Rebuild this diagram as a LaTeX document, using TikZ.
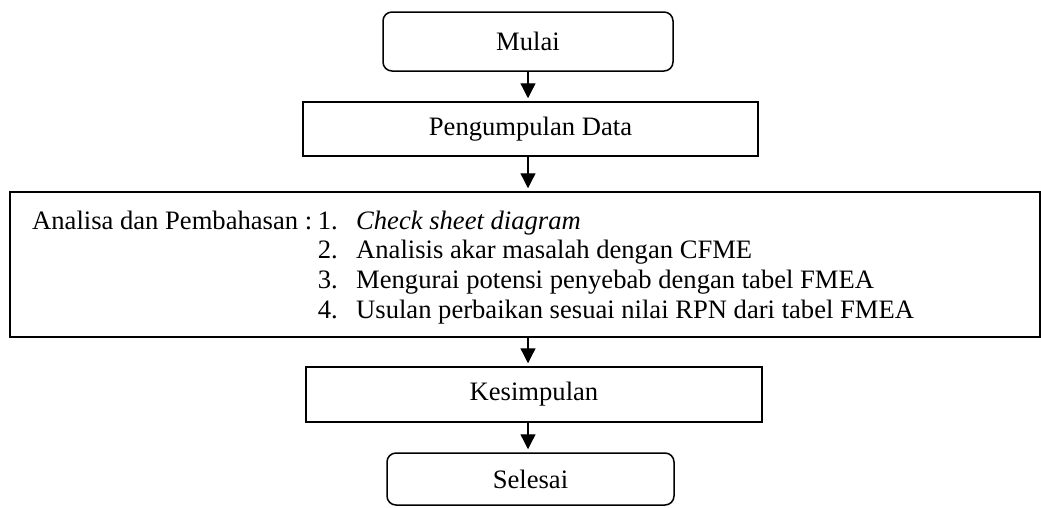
\documentclass[tikz,border=0pt]{standalone}
\usepackage{fontspec}
\setmainfont{Liberation Serif}
\usetikzlibrary{arrows.meta}
\begin{document}
\begin{tikzpicture}[x=1pt,y=-1pt,
  txt/.style={font=\fontsize{26.6}{29.7}\selectfont},
  box/.style={draw, line width=1.5pt, inner sep=0pt, txt},
  term/.style={box, rounded corners=9pt},
  lbl/.style={inner sep=0pt, txt},
  flow/.style={line width=1.3pt, -{Triangle[width=15pt,length=15pt]}, shorten >=3pt}
]
\useasboundingbox (0,0) rectangle (1041,507);
\node[term, minimum width=290pt, minimum height=59pt] (mulai) at (528,41.5) {Mulai};
\node[box, minimum width=455pt, minimum height=54pt] (peng) at (530.5,129) {Pengumpulan Data};
\node[box, minimum width=1030pt, minimum height=145pt] (analisa) at (525,264.5) {};
\node[box, minimum width=456pt, minimum height=55pt] (kes) at (534,394.5) {Kesimpulan};
\node[term, minimum width=287pt, minimum height=52pt] (selesai) at (530.5,479) {Selesai};

\node[lbl, anchor=base west] (a0) at (32,229) {Analisa dan Pembahasan :};
\node[lbl, anchor=base east] (n1) at (338,229) {1.};
\node[lbl, anchor=base east] (n2) at (338,258.7) {2.};
\node[lbl, anchor=base east] (n3) at (338,288.3) {3.};
\node[lbl, anchor=base east] (n4) at (338,318) {4.};
\node[lbl, anchor=base west] (t1) at (356,229) {\textit{Check sheet diagram}};
\node[lbl, anchor=base west] (t2) at (356,258.7) {Analisis akar masalah dengan CFME};
\node[lbl, anchor=base west] (t3) at (356,288.3) {Mengurai potensi penyebab dengan tabel FMEA};
\node[lbl, anchor=base west] (t4) at (356,318) {Usulan perbaikan sesuai nilai RPN dari tabel FMEA};

\draw[flow] (mulai.south) -- (mulai.south |- peng.north);
\draw[flow] (mulai.south |- peng.south) -- (mulai.south |- analisa.north);
\draw[flow] (mulai.south |- analisa.south) -- (mulai.south |- kes.north);
\draw[flow] (mulai.south |- kes.south) -- (mulai.south |- selesai.north);
\end{tikzpicture}
\end{document}
